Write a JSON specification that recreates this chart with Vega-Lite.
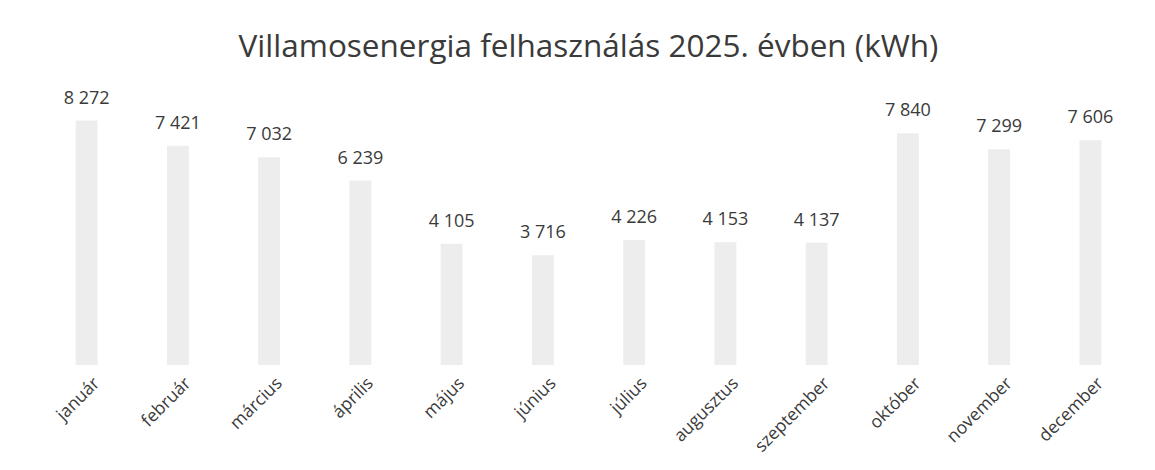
{
  "$schema": "https://vega.github.io/schema/vega-lite/v6.json",
  "width": 1095,
  "height": 266,
  "autosize": {"type": "none"},
  "padding": {"left": 41, "top": 99, "right": 19, "bottom": 105},
  "background": "white",
  "config": {
    "locale": {"number": {"decimal": ",", "thousands": " ", "grouping": [3], "currency": ["", " Ft"]}},
    "view": {"stroke": null},
    "font": "Open Sans"
  },
  "title": {
    "text": "Villamosenergia felhasználás 2025. évben (kWh)",
    "fontSize": 31.5,
    "font": "Open Sans",
    "fontWeight": "normal",
    "color": "#3a3a3a",
    "offset": 26
  },
  "data": {
    "values": [
      {"honap": "január", "kwh": 8272},
      {"honap": "február", "kwh": 7421},
      {"honap": "március", "kwh": 7032},
      {"honap": "április", "kwh": 6239},
      {"honap": "május", "kwh": 4105},
      {"honap": "június", "kwh": 3716},
      {"honap": "július", "kwh": 4226},
      {"honap": "augusztus", "kwh": 4153},
      {"honap": "szeptember", "kwh": 4137},
      {"honap": "október", "kwh": 7840},
      {"honap": "november", "kwh": 7299},
      {"honap": "december", "kwh": 7606}
    ]
  },
  "encoding": {
    "x": {
      "field": "honap", "type": "nominal", "sort": null,
      "scale": {"paddingInner": 0.76, "paddingOuter": 0.38},
      "axis": {"title": null, "labelAngle": -45, "labelFontSize": 17.5, "labelColor": "#3a3a3a", "domain": false, "ticks": false, "labelPadding": 9, "labelOffset": 4, "labelFont": "Open Sans"}
    },
    "y": {
      "field": "kwh", "type": "quantitative",
      "scale": {"domain": [0, 9000]},
      "axis": null
    }
  },
  "layer": [
    {"mark": {"type": "bar", "color": "#ededed"}},
    {"mark": {"type": "text", "baseline": "bottom", "dy": -13, "fontSize": 18, "color": "#3a3a3a", "font": "Open Sans"},
     "encoding": {"text": {"field": "kwh", "type": "quantitative", "format": ",d"}}}
  ]
}
